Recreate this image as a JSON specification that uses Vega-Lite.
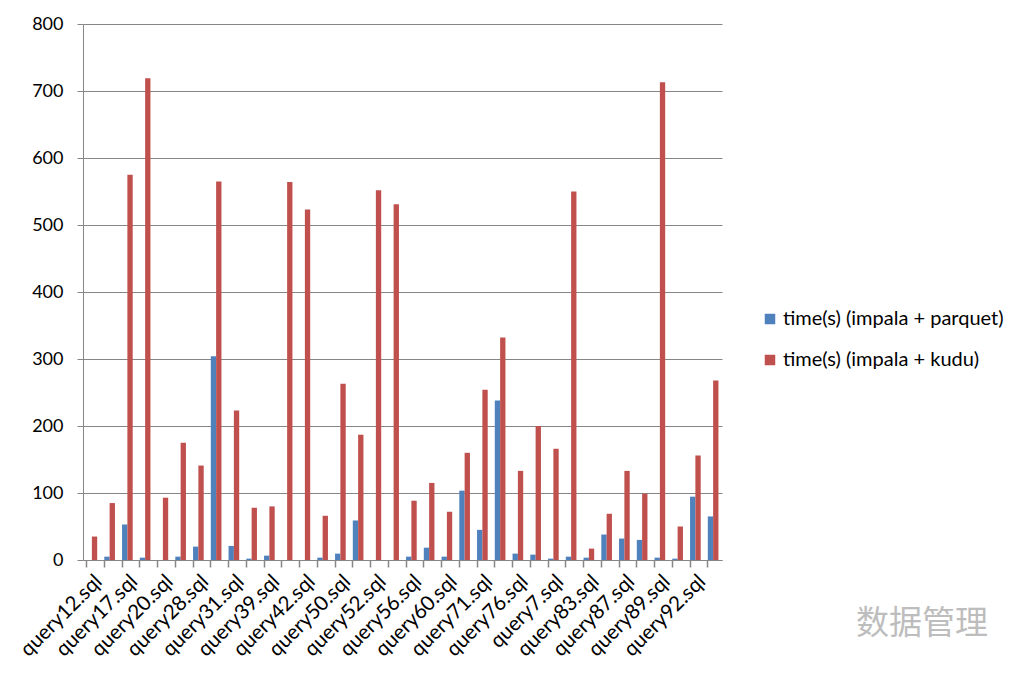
{
  "$schema": "https://vega.github.io/schema/vega-lite/v6.json",
  "autosize": "none",
  "width": 639,
  "height": 536,
  "padding": {"left": 83, "top": 24, "right": 302, "bottom": 116},
  "background": "white",
  "config": {
    "view": {"stroke": null},
    "font": "Lato",
    "axis": {"labelFont": "Lato", "labelColor": "#000000", "domainColor": "#868686", "tickColor": "#868686"}
  },
  "title": {
    "text": "数据管理",
    "orient": "top",
    "anchor": "end",
    "frame": "group",
    "font": "Noto Sans CJK SC",
    "fontSize": 33,
    "fontWeight": "normal",
    "color": "#bdbdbd",
    "baseline": "alphabetic",
    "offset": 0,
    "dx": 266,
    "dy": 652
  },
  "data": {
    "values": [
      {"query": "query12.sql", "series": "time(s) (impala + parquet)", "time": 0},
      {"query": "query12.sql", "series": "time(s) (impala + kudu)", "time": 35},
      {"query": "query15.sql", "series": "time(s) (impala + parquet)", "time": 5},
      {"query": "query15.sql", "series": "time(s) (impala + kudu)", "time": 85},
      {"query": "query17.sql", "series": "time(s) (impala + parquet)", "time": 53},
      {"query": "query17.sql", "series": "time(s) (impala + kudu)", "time": 575},
      {"query": "query19.sql", "series": "time(s) (impala + parquet)", "time": 3.5},
      {"query": "query19.sql", "series": "time(s) (impala + kudu)", "time": 719},
      {"query": "query20.sql", "series": "time(s) (impala + parquet)", "time": 0},
      {"query": "query20.sql", "series": "time(s) (impala + kudu)", "time": 93},
      {"query": "query25.sql", "series": "time(s) (impala + parquet)", "time": 5},
      {"query": "query25.sql", "series": "time(s) (impala + kudu)", "time": 175},
      {"query": "query28.sql", "series": "time(s) (impala + parquet)", "time": 20},
      {"query": "query28.sql", "series": "time(s) (impala + kudu)", "time": 141},
      {"query": "query29.sql", "series": "time(s) (impala + parquet)", "time": 304},
      {"query": "query29.sql", "series": "time(s) (impala + kudu)", "time": 565},
      {"query": "query31.sql", "series": "time(s) (impala + parquet)", "time": 21},
      {"query": "query31.sql", "series": "time(s) (impala + kudu)", "time": 223},
      {"query": "query34.sql", "series": "time(s) (impala + parquet)", "time": 2},
      {"query": "query34.sql", "series": "time(s) (impala + kudu)", "time": 78},
      {"query": "query39.sql", "series": "time(s) (impala + parquet)", "time": 6.5},
      {"query": "query39.sql", "series": "time(s) (impala + kudu)", "time": 80},
      {"query": "query40.sql", "series": "time(s) (impala + parquet)", "time": 0},
      {"query": "query40.sql", "series": "time(s) (impala + kudu)", "time": 564},
      {"query": "query42.sql", "series": "time(s) (impala + parquet)", "time": 0},
      {"query": "query42.sql", "series": "time(s) (impala + kudu)", "time": 523},
      {"query": "query43.sql", "series": "time(s) (impala + parquet)", "time": 3.5},
      {"query": "query43.sql", "series": "time(s) (impala + kudu)", "time": 66},
      {"query": "query50.sql", "series": "time(s) (impala + parquet)", "time": 9.5},
      {"query": "query50.sql", "series": "time(s) (impala + kudu)", "time": 263},
      {"query": "query51.sql", "series": "time(s) (impala + parquet)", "time": 59},
      {"query": "query51.sql", "series": "time(s) (impala + kudu)", "time": 187},
      {"query": "query52.sql", "series": "time(s) (impala + parquet)", "time": 0},
      {"query": "query52.sql", "series": "time(s) (impala + kudu)", "time": 552},
      {"query": "query55.sql", "series": "time(s) (impala + parquet)", "time": 0},
      {"query": "query55.sql", "series": "time(s) (impala + kudu)", "time": 531},
      {"query": "query56.sql", "series": "time(s) (impala + parquet)", "time": 5},
      {"query": "query56.sql", "series": "time(s) (impala + kudu)", "time": 88.5},
      {"query": "query59.sql", "series": "time(s) (impala + parquet)", "time": 18.4},
      {"query": "query59.sql", "series": "time(s) (impala + kudu)", "time": 115},
      {"query": "query60.sql", "series": "time(s) (impala + parquet)", "time": 5},
      {"query": "query60.sql", "series": "time(s) (impala + kudu)", "time": 72},
      {"query": "query68.sql", "series": "time(s) (impala + parquet)", "time": 103.5},
      {"query": "query68.sql", "series": "time(s) (impala + kudu)", "time": 160},
      {"query": "query71.sql", "series": "time(s) (impala + parquet)", "time": 45},
      {"query": "query71.sql", "series": "time(s) (impala + kudu)", "time": 254},
      {"query": "query73.sql", "series": "time(s) (impala + parquet)", "time": 238},
      {"query": "query73.sql", "series": "time(s) (impala + kudu)", "time": 332},
      {"query": "query76.sql", "series": "time(s) (impala + parquet)", "time": 9.5},
      {"query": "query76.sql", "series": "time(s) (impala + kudu)", "time": 133},
      {"query": "query79.sql", "series": "time(s) (impala + parquet)", "time": 8},
      {"query": "query79.sql", "series": "time(s) (impala + kudu)", "time": 200},
      {"query": "query7.sql", "series": "time(s) (impala + parquet)", "time": 2},
      {"query": "query7.sql", "series": "time(s) (impala + kudu)", "time": 166},
      {"query": "query82.sql", "series": "time(s) (impala + parquet)", "time": 5},
      {"query": "query82.sql", "series": "time(s) (impala + kudu)", "time": 550},
      {"query": "query83.sql", "series": "time(s) (impala + parquet)", "time": 3.5},
      {"query": "query83.sql", "series": "time(s) (impala + kudu)", "time": 17},
      {"query": "query85.sql", "series": "time(s) (impala + parquet)", "time": 38},
      {"query": "query85.sql", "series": "time(s) (impala + kudu)", "time": 69},
      {"query": "query87.sql", "series": "time(s) (impala + parquet)", "time": 32},
      {"query": "query87.sql", "series": "time(s) (impala + kudu)", "time": 133},
      {"query": "query88.sql", "series": "time(s) (impala + parquet)", "time": 30},
      {"query": "query88.sql", "series": "time(s) (impala + kudu)", "time": 99},
      {"query": "query89.sql", "series": "time(s) (impala + parquet)", "time": 3.5},
      {"query": "query89.sql", "series": "time(s) (impala + kudu)", "time": 713},
      {"query": "query91.sql", "series": "time(s) (impala + parquet)", "time": 2},
      {"query": "query91.sql", "series": "time(s) (impala + kudu)", "time": 50},
      {"query": "query92.sql", "series": "time(s) (impala + parquet)", "time": 94.5},
      {"query": "query92.sql", "series": "time(s) (impala + kudu)", "time": 156},
      {"query": "query96.sql", "series": "time(s) (impala + parquet)", "time": 65},
      {"query": "query96.sql", "series": "time(s) (impala + kudu)", "time": 268}
    ]
  },
  "mark": {"type": "bar"},
  "encoding": {
    "x": {
      "field": "query",
      "type": "nominal",
      "sort": null,
      "scale": {"paddingInner": 0.4, "paddingOuter": 0.2},
      "axis": {
        "title": null,
        "bandPosition": 0,
        "labelOffset": 0,
        "labelAngle": -45,
        "labelAlign": "right",
        "labelBaseline": "top",
        "labelFontSize": 20.5,
        "labelPadding": 4,
        "labelOverlap": false,
        "labelBound": false,
        "labelExpr": "indexof(['query12.sql','query17.sql','query20.sql','query28.sql','query31.sql','query39.sql','query42.sql','query50.sql','query52.sql','query56.sql','query60.sql','query71.sql','query76.sql','query7.sql','query83.sql','query87.sql','query89.sql','query92.sql'], datum.value) >= 0 ? datum.value : ''",
        "tickSize": 7,
        "domainWidth": 1,
        "tickWidth": 1.5
      }
    },
    "xOffset": {
      "field": "series",
      "type": "nominal",
      "sort": ["time(s) (impala + parquet)", "time(s) (impala + kudu)"]
    },
    "y": {
      "field": "time",
      "type": "quantitative",
      "scale": {"domain": [0, 800], "nice": false},
      "axis": {
        "title": null,
        "values": [0, 100, 200, 300, 400, 500, 600, 700, 800],
        "labelFontSize": 18,
        "labelPadding": 14,
        "tickSize": 6,
        "grid": true,
        "gridColor": "#868686",
        "gridWidth": 1
      }
    },
    "color": {
      "field": "series",
      "type": "nominal",
      "scale": {
        "domain": ["time(s) (impala + parquet)", "time(s) (impala + kudu)"],
        "range": ["#4f81bd", "#c0504d"]
      },
      "legend": {
        "title": null,
        "orient": "none",
        "legendX": 677,
        "legendY": 285,
        "padding": 0,
        "symbolType": "square",
        "symbolSize": 110,
        "symbolStrokeWidth": 0,
        "labelFontSize": 20,
        "labelFont": "Lato",
        "labelColor": "#000000",
        "labelOffset": 3,
        "rowPadding": 21,
        "labelLimit": 300
      }
    }
  }
}
